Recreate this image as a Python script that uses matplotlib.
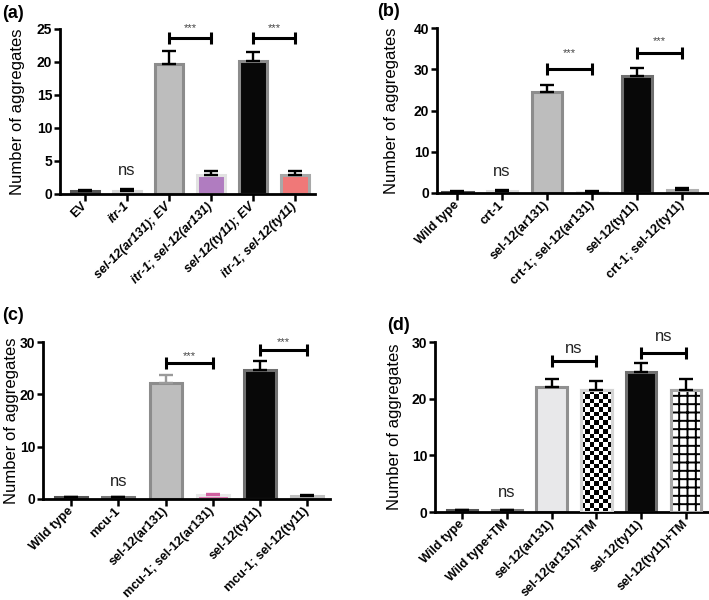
import numpy as np
import matplotlib
matplotlib.use("Agg")
from matplotlib import pyplot as plt

plt.rcParams['font.family'] = ['Liberation Sans', 'DejaVu Sans']
plt.rcParams['hatch.linewidth'] = 1.4

# ---- data ----
labels_a = ["EV", "itr-1", "sel-12(ar131); EV", "itr-1; sel-12(ar131)",
            "sel-12(ty11); EV", "itr-1; sel-12(ty11)"]
means_a = [0.5, 0.5, 19.7, 2.9, 20.1, 2.9]
errs_a = [0.1, 0.2, 2.0, 0.6, 1.4, 0.55]

labels_b = ["Wild type", "crt-1", "sel-12(ar131)", "crt-1; sel-12(ar131)",
            "sel-12(ty11)", "crt-1; sel-12(ty11)"]
means_b = [0.3, 0.5, 24.4, 0.3, 28.3, 0.8]
errs_b = [0.1, 0.2, 1.7, 0.3, 2.1, 0.4]

labels_c = ["Wild type", "mcu-1", "sel-12(ar131)", "mcu-1; sel-12(ar131)",
            "sel-12(ty11)", "mcu-1; sel-12(ty11)"]
means_c = [0.3, 0.3, 22.2, 0.7, 24.7, 0.6]
errs_c = [0.1, 0.1, 1.5, 0.3, 1.6, 0.2]

labels_d = ["Wild type", "Wild type+TM", "sel-12(ar131)", "sel-12(ar131)+TM",
            "sel-12(ty11)", "sel-12(ty11)+TM"]
means_d = [0.3, 0.3, 22.1, 21.5, 24.7, 21.6]
errs_d = [0.1, 0.1, 1.4, 1.6, 1.6, 1.8]

W, H = 709, 600
fig = plt.figure(figsize=(W / 100, H / 100), dpi=100)


def px_axes(left, right, bottom, top):
    # pixel box -> figure fraction
    return fig.add_axes([left / W, 1 - bottom / H, (right - left) / W, (bottom - top) / H])


def bracket(ax, i, j, y, txt, ty, small):
    ax.plot([i, j], [y, y], color='black', lw=2.2, zorder=4, solid_capstyle='butt')
    ax.plot([i, j], [y, y], ls='none', marker='|', ms=9, mew=2.2, color='black', zorder=4)
    if small:
        ax.text((i + j) / 2, ty, txt, ha='center', va='center', fontsize=8, color='#444444')
    else:
        ax.text((i + j) / 2, ty, txt, ha='center', va='center', fontsize=12, color='#222222')


def panel(ax, labels, means, errs, faces, edges, ecols, ylim, yticks, xlim,
          italic, tag, tag_xy, ylab_x, special=None):
    x = np.arange(len(means))
    bars = ax.bar(x, means, width=0.68, color=faces, edgecolor=edges, linewidth=2.2, zorder=2)
    if special:
        for k, kind in special.items():
            b = bars[k]
            b.set_facecolor('white')
            if kind == 'checker':
                img = np.indices((28, 7)).sum(axis=0) % 2
                im = ax.imshow(img, cmap='gray', interpolation='nearest', aspect='auto',
                               extent=[b.get_x(), b.get_x() + b.get_width(), 0, b.get_height()],
                               zorder=2.5)
                im.set_clip_path(b)
            else:
                ax.bar(x[k], means[k], width=0.68, color='white', edgecolor='black',
                       linewidth=0, hatch='++', zorder=2.5)
            ax.bar(x[k], means[k], width=0.68, fill=False, edgecolor=edges[k],
                   linewidth=2.2, zorder=2.6)
    for k in range(len(means)):
        ax.errorbar(x[k], means[k], yerr=[[0], [errs[k]]], fmt='none', ecolor=ecols[k],
                    elinewidth=1.7, capsize=5, capthick=1.7, zorder=3)

    ax.set_xlim(*xlim)
    ax.set_ylim(*ylim)
    ax.set_yticks(yticks)
    ax.set_xticks(x)
    ax.set_xticklabels(labels, rotation=45, ha='right', va='center', rotation_mode='anchor',
                       fontsize=9.1, fontweight='bold')
    for k, lbl in enumerate(ax.get_xticklabels()):
        if italic[k]:
            lbl.set_fontstyle('italic')
    for lbl in ax.get_yticklabels():
        lbl.set_fontweight('bold')
        lbl.set_fontsize(10)
    ax.tick_params(direction='out', length=4, width=1.8, pad=1.5)
    ax.tick_params(axis='x', length=5, pad=2.5)
    for s in ['top', 'right']:
        ax.spines[s].set_visible(False)
    for s in ['left', 'bottom']:
        ax.spines[s].set_linewidth(2)
    ax.set_ylabel("Number of aggregates", fontsize=12, va='center')
    bb = ax.get_position()
    ax.yaxis.set_label_coords((ylab_x / W - bb.x0) / bb.width, 0.5)
    fig.text(tag_xy[0] / W, 1 - tag_xy[1] / H, tag, fontsize=13, fontweight='bold',
             ha='left', va='center')


# (a)
ax_a = px_axes(60, 315, 194, 29)
panel(ax_a, labels_a, means_a, errs_a,
      faces=['#111111', '#c4c4c4', '#bdbdbd', '#b07cc0', '#080808', '#f07878'],
      edges=['#555555', '#d8d8d8', '#8c8c8c', '#e2e2e2', '#8c8c8c', '#a8a8a8'],
      ecols=['black'] * 6,
      ylim=(0, 25), yticks=[0, 5, 10, 15, 20, 25], xlim=(-0.6, 5.48),
      italic=[False, True, True, True, True, True], tag="(a)", tag_xy=(2, 14), ylab_x=18)
bracket(ax_a, 2, 3, 23.7, "***", 25.2, True)
bracket(ax_a, 4, 5, 23.7, "***", 25.2, True)
ax_a.text(1, 3.5, "ns", ha='center', va='center', fontsize=12, color='#222222')

# (b)
ax_b = px_axes(437, 708, 193, 28)
panel(ax_b, labels_b, means_b, errs_b,
      faces=['#111111', '#c8c8c8', '#bdbdbd', '#dcdcdc', '#080808', '#c4c4c4'],
      edges=['#555555', '#dedede', '#8c8c8c', '#e6e6e6', '#707070', '#b0b0b0'],
      ecols=['black'] * 6,
      ylim=(0, 40), yticks=[0, 10, 20, 30, 40], xlim=(-0.45, 5.58),
      italic=[False] * 6, tag="(b)", tag_xy=(377, 11), ylab_x=391)
bracket(ax_b, 2, 3, 30.1, "***", 34.0, True)
bracket(ax_b, 4, 5, 33.9, "***", 36.8, True)
ax_b.text(1, 5.2, "ns", ha='center', va='center', fontsize=12, color='#222222')

# (c)
ax_c = px_axes(43, 330, 499, 342)
panel(ax_c, labels_c, means_c, errs_c,
      faces=['#111111', '#222222', '#bdbdbd', '#e070b0', '#080808', '#a0a0a0'],
      edges=['#555555', '#777777', '#8c8c8c', '#e8e8e8', '#707070', '#c0c0c0'],
      ecols=['black', 'black', '#9a9a9a', '#d060a0', 'black', 'black'],
      ylim=(0, 30), yticks=[0, 10, 20, 30], xlim=(-0.6, 5.49),
      italic=[False] * 6, tag="(c)", tag_xy=(2, 315), ylab_x=12)
bracket(ax_c, 2, 3, 25.9, "***", 27.3, True)
bracket(ax_c, 4, 5, 28.5, "***", 29.9, True)
ax_c.text(1, 3.3, "ns", ha='center', va='center', fontsize=12, color='#222222')

# (d)
ax_d = px_axes(435, 709, 512, 342)
panel(ax_d, labels_d, means_d, errs_d,
      faces=['#111111', '#222222', '#e8e8ea', 'white', '#080808', 'white'],
      edges=['#555555', '#777777', '#909090', '#d4d4d4', '#707070', '#a8a8a8'],
      ecols=['black'] * 6,
      ylim=(0, 30), yticks=[0, 10, 20, 30], xlim=(-0.61, 5.52),
      italic=[False] * 6, tag="(d)", tag_xy=(387, 325), ylab_x=394,
      special={3: 'checker', 5: 'grid'})
bracket(ax_d, 2, 3, 26.6, "ns", 28.9, False)
bracket(ax_d, 4, 5, 28.1, "ns", 30.9, False)
ax_d.text(1, 3.4, "ns", ha='center', va='center', fontsize=12, color='#222222')

fig.savefig("out.png", dpi=100)
